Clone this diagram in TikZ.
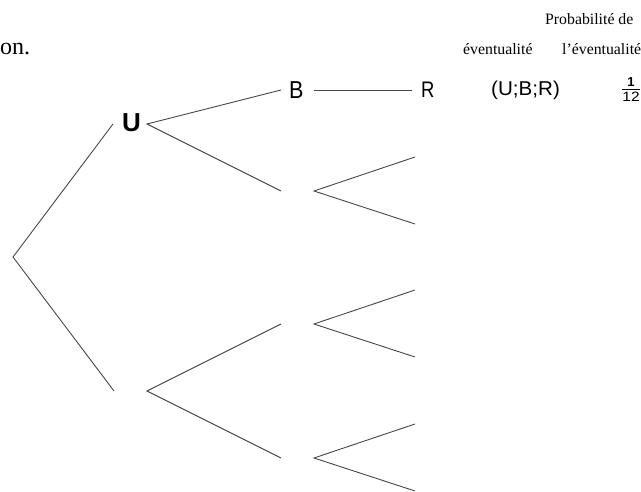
\documentclass[tikz,border=0pt]{standalone}
\usepackage{fontspec}
\setmainfont{Liberation Serif}
\newfontfamily\arialfont{Liberation Sans}
\begin{document}
\begin{tikzpicture}[x=1pt,y=-1pt,
  branch/.style={draw=black!72,line width=0.9pt},
  serif/.style={inner sep=0pt,anchor=base west,font=\fontsize{15.8}{18}\selectfont},
  letter/.style={inner sep=0pt,anchor=base west,font=\arialfont\fontsize{24.5}{26}\selectfont}]
\useasboundingbox (0,0) rectangle (641,492);

% headings
\node[inner sep=0pt,anchor=base west,font=\fontsize{24}{26}\selectfont] (cap) at (0,55) {on.};
\node[serif] (hprob) at (545,25) {Probabilité de};
\node[serif] (hev) at (463,55) {éventualité};
\node[serif] (hpev) at (562,55) {l’éventualité};

% labelled nodes
\node[letter,font=\arialfont\bfseries\fontsize{26}{28}\selectfont] (U) at (122,132) {\scalebox{1.0}[1]{U}};
\node[letter] (B) at (289,99) {\scalebox{0.88}[1]{B}};
\node[letter,font=\arialfont\fontsize{22.5}{24}\selectfont] (R) at (421,98) {\scalebox{0.82}[1]{R}};
\node[inner sep=0pt,anchor=base west,font=\arialfont\fontsize{20}{22}\selectfont] (ubr) at (491,96) {\scalebox{1.03}[1]{(U;B;R)}};

% probability 1/12
\node[inner sep=0pt,anchor=base,font=\arialfont\bfseries\fontsize{13}{14}\selectfont] (num) at (631,87) {1};
\node[inner sep=0pt,anchor=base,font=\arialfont\fontsize{13.5}{14}\selectfont] (den) at (631,102) {\scalebox{1.15}[1]{12}};
\coordinate (barL) at (622,90);
\coordinate (barR) at (640,90);
\draw[line width=1pt] (barL) -- (barR);

% branch points
\coordinate (root) at (13,257);
\coordinate (Uin) at (113,124);
\coordinate (Uout) at (147,124);
\coordinate (Bin) at (281,90);
\coordinate (Bout) at (314,90);
\coordinate (Rin) at (412,90);
\coordinate (a1) at (281,191);
\coordinate (a2) at (314,191);
\coordinate (a3) at (415,157);
\coordinate (a4) at (415,224);
\coordinate (Lin) at (114,391);
\coordinate (Lout) at (147,391);
\coordinate (b1) at (281,324);
\coordinate (b2) at (314,324);
\coordinate (b3) at (415,290);
\coordinate (b4) at (415,357);
\coordinate (c1) at (281,458);
\coordinate (c2) at (314,458);
\coordinate (c3) at (415,424);
\coordinate (c4) at (415,491);

% tree
\draw[branch] (Uin) -- (root) -- (Lin);
\draw[branch] (Bin) -- (Uout) -- (a1);
\draw[branch] (Bout) -- (Rin);
\draw[branch] (a3) -- (a2) -- (a4);
\draw[branch] (b1) -- (Lout) -- (c1);
\draw[branch] (b3) -- (b2) -- (b4);
\draw[branch] (c3) -- (c2) -- (c4);
\end{tikzpicture}
\end{document}
